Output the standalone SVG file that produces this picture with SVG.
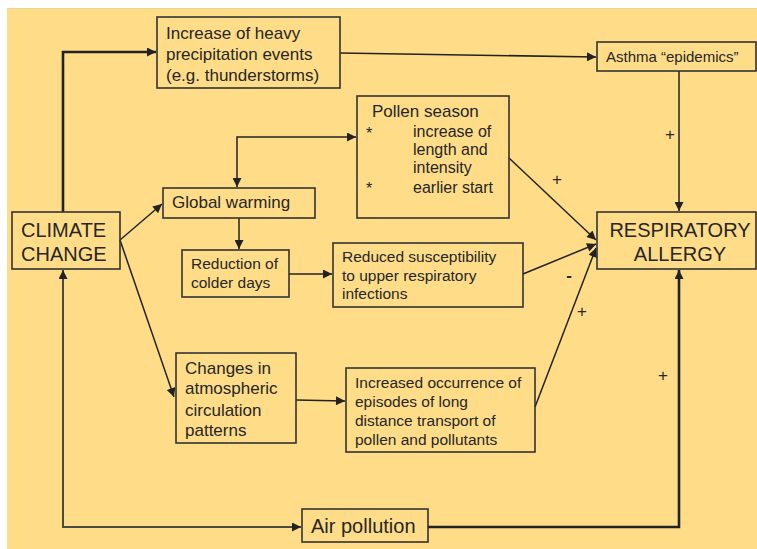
<svg xmlns="http://www.w3.org/2000/svg" width="757" height="549" viewBox="0 0 757 549">
<defs>
<marker id="ah" viewBox="0 0 10 10" refX="10" refY="5" markerWidth="11" markerHeight="9" markerUnits="userSpaceOnUse" orient="auto-start-reverse">
<path d="M0,0 L10,5 L0,10 z" fill="#222"/>
</marker>
<style>
.box{fill:none;stroke:#333;stroke-width:1.6}
text{font-family:"Liberation Sans",Arial,sans-serif;fill:#262626}
.c{stroke:#222;stroke-width:1.5;fill:none}
.t{stroke:#222;stroke-width:2.6;fill:none}
.g{stroke:#4a4a40;stroke-width:2;fill:none}
.f20{font-size:20px}
.f17{font-size:17px}
.f16{font-size:16px}
.f155{font-size:15.5px}
.f15{font-size:15px}
.sign{font-size:17px}
</style>
</defs>
<rect x="0" y="0" width="757" height="549" fill="#ffffff"/>
<rect x="7" y="8" width="750" height="541" fill="#ffdd88"/>
<line x1="7" y1="8.5" x2="757" y2="8.5" stroke="#ecd39a" stroke-width="1"/>

<g id="connectors">
<polyline class="t" points="63,212 63,52 156,52" marker-end="url(#ah)"/>
<line class="c" x1="340" y1="53" x2="596" y2="57" marker-end="url(#ah)"/>
<line class="c" x1="679" y1="71" x2="679" y2="211" marker-end="url(#ah)"/>
<polyline class="c" points="237,187 237,137 356,137" marker-start="url(#ah)" marker-end="url(#ah)"/>
<line class="c" x1="120" y1="240" x2="162" y2="204" marker-end="url(#ah)"/>
<line class="c" x1="120" y1="240" x2="174" y2="397" marker-end="url(#ah)"/>
<line class="c" x1="239" y1="218" x2="239" y2="249" marker-end="url(#ah)"/>
<line class="c" x1="289" y1="274" x2="332" y2="274" marker-end="url(#ah)"/>
<line class="c" x1="296" y1="400" x2="345" y2="401" marker-end="url(#ah)"/>
<line class="c" x1="509" y1="158" x2="596" y2="240" marker-end="url(#ah)"/>
<line class="c" x1="523" y1="274" x2="596" y2="244" marker-end="url(#ah)"/>
<line class="c" x1="535" y1="407" x2="596" y2="248" marker-end="url(#ah)"/>
<polyline class="t" points="428,527 679,527 679,270" marker-end="url(#ah)"/>
<polyline class="g" points="63,270 63,527 301,527" marker-start="url(#ah)" marker-end="url(#ah)"/>
<text class="sign" x="670" y="140" text-anchor="middle">+</text>
<text class="sign" x="557" y="185" text-anchor="middle">+</text>
<text class="sign" x="569" y="281" text-anchor="middle" font-weight="bold">-</text>
<text class="sign" x="582" y="317" text-anchor="middle">+</text>
<text class="sign" x="663" y="381" text-anchor="middle">+</text>
</g>

<g id="climate-change">
<rect class="box" x="12" y="212" width="108" height="57"/>
<text class="f20" x="21" y="237">CLIMATE</text>
<text class="f20" x="21" y="261">CHANGE</text>
</g>

<g id="heavy-precipitation">
<rect class="box" x="157" y="17" width="183" height="71"/>
<text class="f17" x="166" y="39">Increase of heavy</text>
<text class="f17" x="166" y="60">precipitation events</text>
<text class="f17" x="166" y="81">(e.g. thunderstorms)</text>
</g>

<g id="asthma">
<rect class="box" x="597" y="42" width="159" height="29"/>
<text class="f15" x="606" y="62">Asthma “epidemics”</text>
</g>

<g id="pollen-season">
<rect class="box" x="357" y="96" width="152" height="122"/>
<text class="f17" x="372" y="117">Pollen season</text>
<text class="f16" x="366" y="139">*</text>
<text class="f16" x="413" y="137">increase of</text>
<text class="f16" x="413" y="155">length and</text>
<text class="f16" x="413" y="173">intensity</text>
<text class="f16" x="366" y="194">*</text>
<text class="f16" x="413" y="193">earlier start</text>
</g>

<g id="global-warming">
<rect class="box" x="163" y="188" width="152" height="30"/>
<text class="f17" x="172" y="208">Global warming</text>
</g>

<g id="reduction-colder-days">
<rect class="box" x="182" y="250" width="107" height="47"/>
<text class="f155" x="191" y="269">Reduction of</text>
<text class="f155" x="191" y="288">colder days</text>
</g>

<g id="reduced-susceptibility">
<rect class="box" x="333" y="243" width="190" height="64"/>
<text class="f155" x="342" y="262">Reduced susceptibility</text>
<text class="f155" x="342" y="281">to upper respiratory</text>
<text class="f155" x="342" y="299">infections</text>
</g>

<g id="respiratory-allergy">
<rect class="box" x="597" y="212" width="159" height="57"/>
<text class="f20" x="680" y="237" text-anchor="middle">RESPIRATORY</text>
<text class="f20" x="680" y="261" text-anchor="middle">ALLERGY</text>
</g>

<g id="atmospheric-circulation">
<rect class="box" x="176" y="353" width="120" height="90"/>
<text class="f17" x="185" y="374">Changes in</text>
<text class="f17" x="185" y="394">atmospheric</text>
<text class="f17" x="185" y="416">circulation</text>
<text class="f17" x="185" y="436">patterns</text>
</g>

<g id="long-distance-transport">
<rect class="box" x="346" y="368" width="189" height="84"/>
<text class="f155" x="355" y="388">Increased occurrence of</text>
<text class="f155" x="355" y="407">episodes of long</text>
<text class="f155" x="355" y="426">distance transport of</text>
<text class="f155" x="355" y="445">pollen and pollutants</text>
</g>

<g id="air-pollution">
<rect class="box" x="302" y="509" width="126" height="33"/>
<text class="f20" x="311" y="533">Air pollution</text>
</g>
</svg>
